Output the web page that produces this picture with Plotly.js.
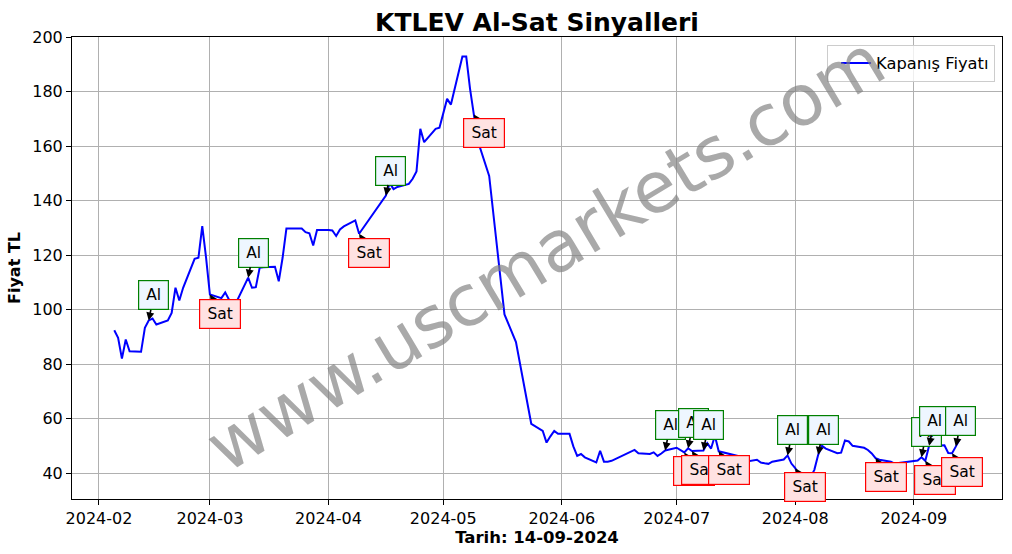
<!DOCTYPE html>
<html>
<head>
<meta charset="utf-8">
<script src="https://cdn.plot.ly/plotly-3.0.1.min.js"></script>
<style>html,body{margin:0;padding:0;background:#fff;}#chart{width:1012px;height:554px;}</style>
</head>
<body>
<div id="chart"></div>
<script>
const dates = [
 "2024-02-05","2024-02-06","2024-02-07","2024-02-08","2024-02-09","2024-02-12","2024-02-13","2024-02-14","2024-02-15","2024-02-16",
 "2024-02-19","2024-02-20","2024-02-21","2024-02-22","2024-02-23","2024-02-26","2024-02-27","2024-02-28","2024-02-29","2024-03-01",
 "2024-03-04","2024-03-05","2024-03-06","2024-03-07","2024-03-08","2024-03-11","2024-03-12","2024-03-13","2024-03-14","2024-03-15",
 "2024-03-18","2024-03-19","2024-03-20","2024-03-21","2024-03-22","2024-03-25","2024-03-26","2024-03-27","2024-03-28","2024-03-29",
 "2024-04-01","2024-04-02","2024-04-03","2024-04-04","2024-04-05","2024-04-08","2024-04-09","2024-04-15","2024-04-16","2024-04-17",
 "2024-04-18","2024-04-19","2024-04-22","2024-04-23","2024-04-24","2024-04-25","2024-04-26","2024-04-29","2024-04-30","2024-05-02",
 "2024-05-03","2024-05-06","2024-05-07","2024-05-08","2024-05-09","2024-05-10","2024-05-13","2024-05-17","2024-05-20","2024-05-24",
 "2024-05-27","2024-05-28","2024-05-29","2024-05-30","2024-05-31","2024-06-03","2024-06-04","2024-06-05","2024-06-06","2024-06-07",
 "2024-06-10","2024-06-11","2024-06-12","2024-06-13","2024-06-14","2024-06-20","2024-06-21","2024-06-24","2024-06-25","2024-06-26",
 "2024-06-27","2024-06-28","2024-07-01","2024-07-02","2024-07-03","2024-07-04","2024-07-05","2024-07-08","2024-07-09","2024-07-10",
 "2024-07-11","2024-07-12","2024-07-16","2024-07-17","2024-07-18","2024-07-19","2024-07-22","2024-07-23","2024-07-24","2024-07-25",
 "2024-07-26","2024-07-29","2024-07-30","2024-07-31","2024-08-01","2024-08-02","2024-08-05","2024-08-06","2024-08-07","2024-08-08",
 "2024-08-09","2024-08-12","2024-08-13","2024-08-14","2024-08-15","2024-08-16","2024-08-19","2024-08-20","2024-08-21","2024-08-22",
 "2024-08-23","2024-08-26","2024-08-27","2024-08-28","2024-08-29","2024-09-02","2024-09-03","2024-09-04","2024-09-05","2024-09-06",
 "2024-09-09","2024-09-10","2024-09-11","2024-09-12","2024-09-13"
];
const prices = [
 92.4,89.6,82.0,89.0,84.7,84.5,93.3,96.0,96.7,94.5,
 96.0,98.8,108.0,103.3,108.0,118.6,119.0,130.6,119.0,105.5,
 104.2,106.3,103.6,103.5,103.0,111.7,108.0,108.2,115.3,115.5,
 115.7,110.4,119.0,129.7,129.7,129.7,128.4,128.0,123.5,129.2,
 129.2,129.0,127.0,129.4,130.5,132.7,127.8,139.5,141.8,146.4,
 144.2,145.0,146.1,148.0,150.7,166.3,161.4,166.3,166.7,177.3,
 175.2,192.8,192.8,181.0,171.6,162.0,149.0,98.2,88.1,58.1,
 55.5,51.2,53.5,55.5,54.4,54.4,49.8,46.3,47.0,45.8,
 43.9,48.2,44.2,44.2,44.5,48.5,47.3,47.0,47.6,46.3,
 47.2,48.3,49.3,48.5,47.6,49.1,48.1,48.3,51.0,49.0,
 53.7,48.0,46.7,46.3,45.5,44.2,44.9,43.9,43.6,43.4,
 44.2,45.0,46.5,43.5,41.8,39.5,38.5,41.2,46.7,50.0,
 49.0,47.3,47.5,52.0,51.6,50.0,49.3,48.5,47.2,45.5,
 44.9,44.2,43.5,43.8,43.9,44.6,45.8,44.5,50.0,50.0,
 50.2,47.4,47.3,49.8,52.5
];
const buyDates = ["2024-02-14","2024-03-11","2024-04-16","2024-06-28","2024-07-04","2024-07-08","2024-07-30","2024-08-07","2024-09-03","2024-09-05","2024-09-12"];
const sellDates = ["2024-03-01","2024-04-09","2024-05-09","2024-07-03","2024-07-05","2024-07-12","2024-08-01","2024-08-22","2024-09-04","2024-09-11"];
const buyLabel = "Al";
const sellLabel = "Sat";

const FONT = "DejaVu Sans, Verdana, sans-serif";

const priceOf = d => prices[dates.indexOf(d)];

const signals = [];
buyDates.forEach(d => signals.push({d, type: "buy"}));
sellDates.forEach(d => signals.push({d, type: "sell"}));
signals.sort((a, b) => a.d < b.d ? -1 : (a.d > b.d ? 1 : (a.type === "buy" ? -1 : 1)));

const annotations = [{
  text: "www.uscmarkets.com", xref: "paper", yref: "paper", x: 0.509, y: 0.532,
  xanchor: "center", yanchor: "middle", showarrow: false, textangle: -31,
  font: {family: FONT, size: 71, color: "rgba(128,128,128,0.68)"}
}];

signals.forEach(s => {
  const buy = s.type === "buy";
  const base = {
    x: s.d, y: priceOf(s.d), xref: "x", yref: "y",
    text: buy ? buyLabel : sellLabel,
    bgcolor: buy ? "#eef6ff" : "#ffe2e2",
    bordercolor: buy ? "#008000" : "#ff0000",
    borderwidth: 1.2, borderpad: 1,
    width: buy ? 27 : 38, height: 26,
    font: {family: FONT, size: 15.5, color: "#000"}
  };
  if (buy) {
    annotations.push(Object.assign(base, {
      showarrow: true, arrowhead: 2, arrowsize: 1, arrowwidth: 1.6, arrowcolor: "#000",
      ax: 5, ay: -25, standoff: 0
    }));
  } else {
    annotations.push({
      x: s.d, y: priceOf(s.d), xref: "x", yref: "y", text: "",
      showarrow: true, arrowhead: 2, arrowsize: 1, arrowwidth: 1.6, arrowcolor: "#000",
      ax: 7, ay: 11, standoff: 0
    });
    annotations.push(Object.assign(base, {showarrow: false, xshift: 10, yshift: -19}));
  }
});

const trace = {
  x: dates, y: prices, type: "scatter", mode: "lines",
  name: "Kapanış Fiyatı", line: {color: "#0000ff", width: 2}
};

const layout = {
  width: 1012, height: 554,
  margin: {l: 72, r: 10, t: 37, b: 55},
  paper_bgcolor: "#fff", plot_bgcolor: "#fff",
  font: {family: FONT, size: 16, color: "#000"},
  title: {text: "<b>KTLEV Al-Sat Sinyalleri</b>", x: 0.5, xref: "paper", y: 0.96, yref: "container", yanchor: "middle",
          font: {family: FONT, size: 25, color: "#000"}},
  showlegend: true,
  legend: {x: 0.9925, xanchor: "right", y: 0.983, yanchor: "top", bgcolor: "rgba(255,255,255,0.8)",
           bordercolor: "#cccccc", borderwidth: 1, indentation: 8,
           font: {family: FONT, size: 16.3, color: "#000"}},
  xaxis: {
    type: "date", range: ["2024-01-24 22:48", "2024-09-24 01:12"],
    tickformat: "%Y-%m", dtick: "M1", tick0: "2024-02-01",
    showgrid: true, gridcolor: "#b0b0b0", gridwidth: 1,
    showline: true, linecolor: "#000", linewidth: 1, mirror: true,
    ticks: "outside", ticklen: 5, tickcolor: "#000", tickwidth: 1,
    tickfont: {family: FONT, size: 16, color: "#000"}, zeroline: false,
    title: {text: "<b>Tarih: 14-09-2024</b>", standoff: 4, font: {family: FONT, size: 16.5, color: "#000"}}
  },
  yaxis: {
    range: [30.5, 200], tickvals: [40, 60, 80, 100, 120, 140, 160, 180, 200],
    showgrid: true, gridcolor: "#b0b0b0", gridwidth: 1,
    showline: true, linecolor: "#000", linewidth: 1, mirror: true,
    ticks: "outside", ticklen: 5, tickcolor: "#000", tickwidth: 1,
    tickfont: {family: FONT, size: 16, color: "#000"}, zeroline: false,
    title: {text: "<b>Fiyat TL</b>", standoff: 7, font: {family: FONT, size: 16, color: "#000"}}
  },
  annotations: annotations
};

Plotly.newPlot("chart", [trace], layout, {displayModeBar: false, staticPlot: true});
</script>
</body>
</html>
